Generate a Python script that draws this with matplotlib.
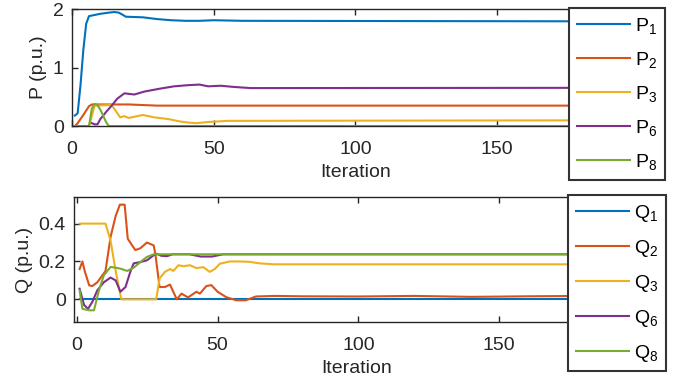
import matplotlib
matplotlib.use('Agg')
import matplotlib.pyplot as plt

plt.rcParams['font.family'] = 'Liberation Sans'
plt.rcParams['mathtext.fontset'] = 'custom'
plt.rcParams['mathtext.rm'] = 'Liberation Sans'
plt.rcParams['font.size'] = 14

colors = ['#0072BD', '#D95319', '#EDB120', '#7E2F8E', '#77AC30']
ink = '#262626'

# active power, p.u.
p1_x = [1, 2, 3, 4, 5, 6, 8, 10, 13, 15, 16.5, 18, 19, 25, 30, 35, 40, 45, 50, 60, 200]
p1_y = [0.18, 0.22, 0.70, 1.30, 1.75, 1.88, 1.90, 1.92, 1.94, 1.95, 1.94, 1.90, 1.87, 1.86, 1.83, 1.81, 1.80, 1.80, 1.81, 1.80, 1.79]
p2_x = [1, 2, 4, 6, 7, 20, 30, 200]
p2_y = [0.0, 0.05, 0.19, 0.34, 0.37, 0.37, 0.35, 0.35]
p3_x = [1, 6, 8, 14, 16, 17, 18.5, 20, 22, 25, 29, 34, 38, 41, 44, 48, 55, 62, 200]
p3_y = [0, 0, 0.35, 0.36, 0.22, 0.15, 0.17, 0.14, 0.16, 0.19, 0.15, 0.12, 0.08, 0.06, 0.05, 0.07, 0.09, 0.09, 0.10]
p6_x = [7, 8, 9, 10, 12, 14, 16, 18.5, 22, 25.5, 31, 36, 41, 45, 48, 52.5, 57, 63, 200]
p6_y = [0.05, 0.03, 0.03, 0.12, 0.24, 0.35, 0.47, 0.56, 0.54, 0.59, 0.64, 0.68, 0.70, 0.71, 0.68, 0.69, 0.67, 0.65, 0.655]
p8_x = [1, 6, 7, 8, 9, 10, 11, 12, 13, 200]
p8_y = [0, 0, 0.30, 0.38, 0.36, 0.28, 0.18, 0.07, 0, 0]

# reactive power, p.u.
q1_x = [1, 200]
q1_y = [0, 0]
q2_x = [1, 2, 2.8, 4.4, 5.5, 7.3, 10.2, 12, 13.8, 15.3, 17, 18.1, 20.8, 22.6, 24.9, 27.3, 27.9, 29.4,
        31.3, 33.1, 35.5, 37.2, 39.5, 42.5, 43.7, 46, 47.8, 50, 53, 56.6, 60, 63.6, 70, 80, 100, 120,
        140, 160, 180, 200]
q2_y = [0.16, 0.20, 0.15, 0.074, 0.07, 0.09, 0.15, 0.33, 0.44, 0.50, 0.50, 0.32, 0.26, 0.27, 0.30, 0.285, 0.24, 0.065,
        0.065, 0.078, 0.0, 0.03, 0.01, 0.04, 0.03, 0.07, 0.075, 0.04, 0.012, -0.005, -0.005, 0.015, 0.018, 0.016, 0.015, 0.018,
        0.013, 0.016, 0.018, 0.016]
q3_x = [1, 10.2, 12, 13.8, 15.8, 28.2, 29.4, 31.3, 33.1, 34.3, 36.1, 37.9, 40.2, 42.5, 44.9, 47.2, 49, 50.8,
        54.3, 57.8, 61.3, 64.9, 70, 200]
q3_y = [0.40, 0.40, 0.31, 0.15, 0.0, 0.0, 0.11, 0.145, 0.16, 0.15, 0.18, 0.175, 0.18, 0.165, 0.17, 0.145, 0.16, 0.188,
        0.20, 0.20, 0.198, 0.19, 0.185, 0.185]
q6_x = [1, 2.6, 4, 5.5, 7.3, 9.6, 12, 13.8, 15.5, 17.3, 19, 20.2, 22.6, 24.9, 27.3, 28.5, 30, 32, 34, 40, 44, 48, 52, 200]
q6_y = [0.056, -0.03, -0.05, -0.014, 0.048, 0.09, 0.115, 0.10, 0.04, 0.065, 0.145, 0.19, 0.197, 0.206, 0.233, 0.24,
        0.23, 0.228, 0.238, 0.238, 0.226, 0.226, 0.238, 0.238]
q8_x = [1, 2, 4.4, 6.1, 7.9, 9.6, 12, 13.8, 15.5, 17.9, 20.2, 22.6, 24.9, 27.3, 200]
q8_y = [0.048, -0.05, -0.058, -0.058, 0.048, 0.127, 0.171, 0.167, 0.162, 0.15, 0.167, 0.197, 0.224, 0.238, 0.238]

p_labels = [r'$\mathregular{P_1}$', r'$\mathregular{P_2}$', r'$\mathregular{P_3}$', r'$\mathregular{P_6}$', r'$\mathregular{P_8}$']
q_labels = [r'$\mathregular{Q_1}$', r'$\mathregular{Q_2}$', r'$\mathregular{Q_3}$', r'$\mathregular{Q_6}$', r'$\mathregular{Q_8}$']
x_ticks = [0, 50, 100, 150]


def style(ax):
    for s in ax.spines.values():
        s.set_color(ink)
        s.set_linewidth(1.0)
    ax.tick_params(direction='in', top=True, right=True, length=4, width=1.0,
                   colors=ink, labelcolor=ink, labelsize=14)
    ax.tick_params(axis='x', pad=11)
    ax.tick_params(axis='y', pad=6)


fig = plt.figure(figsize=(6.83, 3.88), dpi=100)
ax1 = fig.add_axes([0.1054, 0.675, 0.830, 0.3015])
ax2 = fig.add_axes([0.1083, 0.170, 0.8287, 0.322])

lines1 = []
for xs, ys, c in zip([p1_x, p2_x, p3_x, p6_x, p8_x], [p1_y, p2_y, p3_y, p6_y, p8_y], colors):
    l, = ax1.plot(xs, ys, color=c, lw=1.5)
    lines1.append(l)
ax1.set_xlim(0, 200)
ax1.set_ylim(0, 2)
ax1.set_xticks(x_ticks)
ax1.set_yticks([0, 1, 2])
ax1.set_xlabel('Iteration', color=ink, labelpad=4)
ax1.set_ylabel('P (p.u.)', color=ink)
style(ax1)

lines2 = []
for xs, ys, c in zip([q1_x, q2_x, q3_x, q6_x, q8_x], [q1_y, q2_y, q3_y, q6_y, q8_y], colors):
    l, = ax2.plot(xs, ys, color=c, lw=1.5)
    lines2.append(l)
ax2.set_xlim(-1, 200)
ax2.set_ylim(-0.12, 0.54)
ax2.set_xticks(x_ticks)
ax2.set_yticks([0, 0.2, 0.4])
ax2.set_yticklabels(['0', '0.2', '0.4'])
ax2.set_xlabel('Iteration', color=ink, labelpad=4)
ax2.set_ylabel('Q (p.u.)', color=ink)
style(ax2)

for lines, labels, cy in [(lines1, p_labels, 0.7577), (lines2, q_labels, 0.2706)]:
    leg = fig.legend(lines, labels, loc='center', bbox_to_anchor=(0.9034, cy),
                     fontsize=14, handlelength=2.7, handletextpad=0.25, labelspacing=0.72,
                     borderpad=0.4, fancybox=False, framealpha=1, edgecolor='#333333')
    leg.get_frame().set_linewidth(1.5)
    for t in leg.get_texts():
        t.set_color('black')

fig.savefig('out.png', dpi=100)
